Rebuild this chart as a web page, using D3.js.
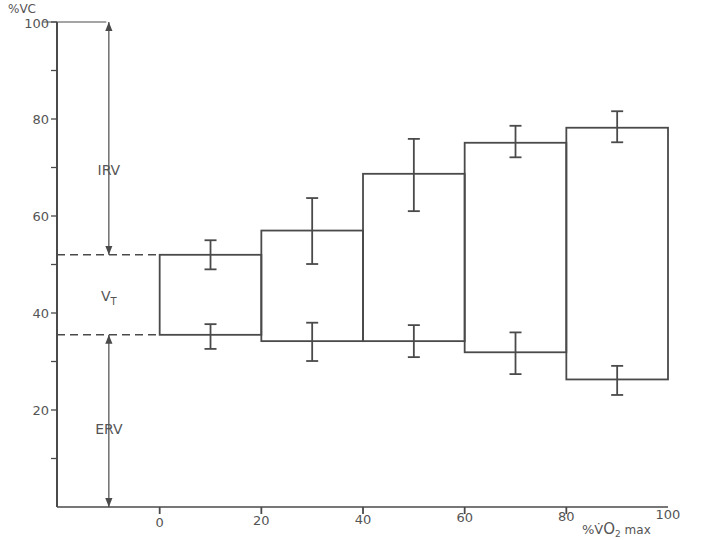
<!DOCTYPE html>
<html><head><meta charset="utf-8">
<script src="https://cdn.jsdelivr.net/npm/d3@7/dist/d3.min.js"></script>
<style>body{margin:0;background:#fff}svg{display:block}text{font-family:"DejaVu Sans",sans-serif;fill:#555}</style>
</head><body><svg id="c" width="720" height="540"></svg>
<script>
const binEdges = [0, 20, 40, 60, 80, 100];
const binMids = [10, 30, 50, 70, 90];
const upperMean = [52, 57, 68.7, 75.1, 78.2];
const upperHi = [55, 63.7, 75.9, 78.6, 81.6];
const upperLo = [49, 50.1, 61, 72.1, 75.2];
const lowerMean = [35.5, 34.2, 34.2, 31.9, 26.3];
const lowerHi = [37.7, 38, 37.5, 36, 29.1];
const lowerLo = [32.6, 30.1, 30.9, 27.4, 23.1];
const xTickLabels = [0, 20, 40, 60, 80, 100];
const yTickLabels = [20, 40, 60, 80, 100];
const yMinorTicks = [10, 30, 50, 70, 90];
const restingVT = [35.5, 52];

const svg = d3.select("#c");
const x = d3.scaleLinear().domain([-20.2, 100]).range([57, 668]);
const y = d3.scaleLinear().domain([0, 100]).range([507, 22]);
const ink = "#4a4a4a";

// y axis
svg.append("line").attr("x1", 57).attr("x2", 57).attr("y1", y(100)).attr("y2", y(0)).attr("stroke", ink).attr("stroke-width", 2);
svg.selectAll(".yt").data(yTickLabels.concat(yMinorTicks)).join("line")
  .attr("x1", 51).attr("x2", 57).attr("y1", d => y(d)).attr("y2", d => y(d)).attr("stroke", ink).attr("stroke-width", 1.3);
svg.selectAll(".yl").data(yTickLabels).join("text")
  .attr("x", 49).attr("y", d => y(d) + (d === 100 ? 6 : 5)).attr("text-anchor", "end").attr("font-size", 13).text(d => d);
// top line at 100
svg.append("line").attr("x1", 43).attr("x2", x(-10.5)).attr("y1", y(100)).attr("y2", y(100)).attr("stroke", ink).attr("stroke-width", 1);

// x axis
svg.append("line").attr("x1", 57).attr("x2", x(100)).attr("y1", y(0)).attr("y2", y(0)).attr("stroke", ink).attr("stroke-width", 1.6);
svg.selectAll(".xt").data(xTickLabels.slice(0, 5)).join("line")
  .attr("x1", d => x(d)).attr("x2", d => x(d)).attr("y1", y(0)).attr("y2", y(0) + 7).attr("stroke", ink).attr("stroke-width", 1.8);
svg.selectAll(".xl").data(xTickLabels).join("text")
  .attr("x", d => x(d)).attr("y", d => y(0) + 20 - d * 0.08).attr("text-anchor", "middle").attr("font-size", 13).text(d => d);

// axis titles
svg.append("text").attr("x", 8).attr("y", 13).attr("font-size", 12).text("%VC");
const xt = svg.append("text").attr("x", 582).attr("y", 534).attr("font-size", 13);
xt.append("tspan").text("%V\u0307");
xt.append("tspan").attr("font-size", 15).text("O");
xt.append("tspan").attr("font-size", 9).attr("dy", 3).text("2");
xt.append("tspan").attr("dy", -3).attr("font-size", 12).text(" max");

// boxes
svg.selectAll(".box").data(binMids).join("rect")
  .attr("x", (d, i) => x(binEdges[i])).attr("width", (d, i) => x(binEdges[i + 1]) - x(binEdges[i]))
  .attr("y", (d, i) => y(upperMean[i])).attr("height", (d, i) => y(lowerMean[i]) - y(upperMean[i]))
  .attr("fill", "none").attr("stroke", ink).attr("stroke-width", 1.8);

// error bars
function errBars(hi, lo) {
  const g = svg.append("g").attr("stroke", ink).attr("stroke-width", 1.8);
  binMids.forEach((m, i) => {
    g.append("line").attr("x1", x(m)).attr("x2", x(m)).attr("y1", y(hi[i])).attr("y2", y(lo[i]));
    [hi[i], lo[i]].forEach(v => g.append("line").attr("x1", x(m) - 6).attr("x2", x(m) + 6).attr("y1", y(v)).attr("y2", y(v)));
  });
}
errBars(upperHi, upperLo);
errBars(lowerHi, lowerLo);

// dashed resting lines
svg.selectAll(".dash").data(restingVT).join("line")
  .attr("x1", 57).attr("x2", x(0)).attr("y1", d => y(d)).attr("y2", d => y(d))
  .attr("stroke", ink).attr("stroke-width", 1.5).attr("stroke-dasharray", "8,5");

// arrows
const defs = svg.append("defs");
defs.append("marker").attr("id", "ah").attr("viewBox", "0 0 10 10").attr("refX", 10).attr("refY", 5)
  .attr("markerWidth", 9).attr("markerHeight", 9).attr("orient", "auto-start-reverse").attr("markerUnits", "userSpaceOnUse")
  .append("path").attr("d", "M0,1 L10,5 L0,9 Z").attr("fill", ink);
const ax = x(-10);
[[100, restingVT[1]], [restingVT[0], 0]].forEach(([a, b]) => {
  svg.append("line").attr("x1", ax).attr("x2", ax).attr("y1", y(a)).attr("y2", y(b))
    .attr("stroke", ink).attr("stroke-width", 1.2)
    .attr("marker-start", "url(#ah)").attr("marker-end", "url(#ah)");
});
function lbl(t, v, sub) {
  const tx = svg.append("text").attr("x", ax).attr("y", y(v) + 5).attr("text-anchor", "middle").attr("font-size", 14);
  tx.append("tspan").text(t);
  if (sub) tx.append("tspan").attr("font-size", 10).attr("dy", 4).text(sub);
  return tx;
}
lbl("IRV", 69.5);
lbl("V", 43.5, "T");
lbl("ERV", 16);
</script></body></html>
